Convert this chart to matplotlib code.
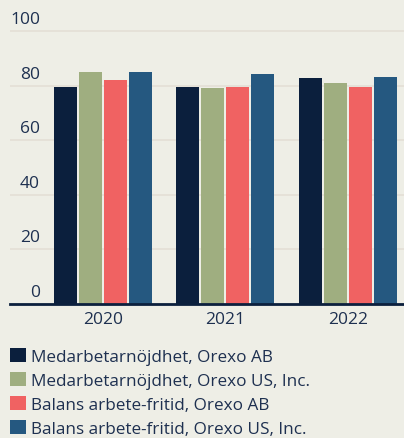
import matplotlib.pyplot as plt
import matplotlib.transforms as mtransforms
import numpy as np

years = ["2020", "2021", "2022"]
series_names = [
    "Medarbetarnöjdhet, Orexo AB",
    "Medarbetarnöjdhet, Orexo US, Inc.",
    "Balans arbete-fritid, Orexo AB",
    "Balans arbete-fritid, Orexo US, Inc.",
]
nojd_ab = [79.5, 79.5, 83]
nojd_us = [85, 79.2, 81]
balans_ab = [82, 79.5, 79.5]
balans_us = [85, 84.3, 83.2]
yticks = [0, 20, 40, 60, 80, 100]

colors = ["#0b1f3d", "#9fae80", "#f06262", "#255880"]
bg = "#eeeee6"
text_col = "#1e3050"

plt.rcParams["font.family"] = ["Open Sans", "DejaVu Sans"]

fig = plt.figure(figsize=(4.04, 4.39), dpi=100, facecolor=bg)
ax = fig.add_axes([10 / 404, 1 - 305 / 439, 1 - 10 / 404, 305 / 439])
ax.set_facecolor(bg)

x = np.arange(len(years))
width = 0.188
step = 0.204
all_series = [nojd_ab, nojd_us, balans_ab, balans_us]
for i, vals in enumerate(all_series):
    ax.bar(x + (i - 1.5) * step, vals, width, color=colors[i],
           label=series_names[i], zorder=3)

ax.set_xlim(-0.76, 2.46)
ax.set_ylim(0, 111.8)
ax.set_yticks(yticks)
ax.set_xticks(x)
ax.set_xticklabels(years)

ax.grid(axis="y", color="#e4dfd6", linewidth=1.2, zorder=0)
for s in ["top", "right", "left"]:
    ax.spines[s].set_visible(False)
ax.spines["bottom"].set_color("#0b1f3d")
ax.spines["bottom"].set_linewidth(2)
ax.spines["bottom"].set_zorder(4)

ax.tick_params(axis="y", length=0, pad=-21.6, labelsize=12.5, labelcolor=text_col)
ax.tick_params(axis="x", length=0, pad=5, labelsize=12.5, labelcolor=text_col)
offset = mtransforms.ScaledTranslation(0, 4 / 100, fig.dpi_scale_trans)
for lab in ax.get_yticklabels():
    lab.set_verticalalignment("bottom")
    lab.set_transform(lab.get_transform() + offset)

handles, labels = ax.get_legend_handles_labels()
leg = fig.legend(handles, labels, loc="lower left",
                 bbox_to_anchor=(10 / 404, 1 / 439),
                 frameon=False, fontsize=12.3, labelcolor=text_col,
                 handlelength=0.95, handleheight=0.95,
                 handletextpad=0.3, labelspacing=0.4, borderpad=0,
                 borderaxespad=0)

fig.savefig("out.png", dpi=100, facecolor=bg)
